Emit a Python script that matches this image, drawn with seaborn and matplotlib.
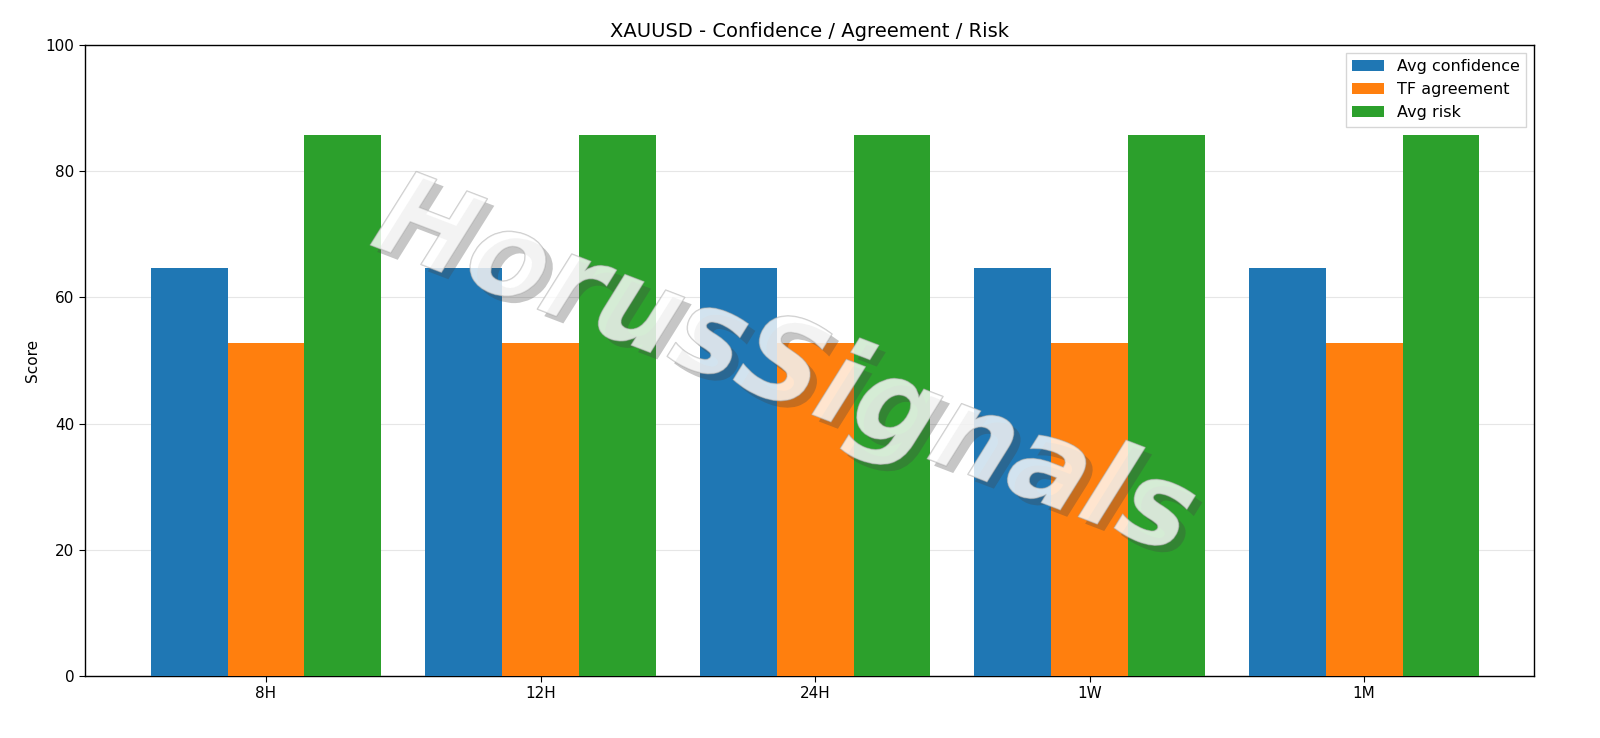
import matplotlib
matplotlib.use("Agg")
import matplotlib.pyplot as plt
import matplotlib.patheffects as pe
import seaborn as sns
import pandas as pd

horizons = ["8H", "12H", "24H", "1W", "1M"]
avg_confidence = [64.6, 64.6, 64.6, 64.6, 64.6]
tf_agreement = [52.7, 52.7, 52.7, 52.7, 52.7]
avg_risk = [85.8, 85.8, 85.8, 85.8, 85.8]
series_names = ["Avg confidence", "TF agreement", "Avg risk"]

rows = []
for name, vals in zip(series_names, [avg_confidence, tf_agreement, avg_risk]):
    for h, v in zip(horizons, vals):
        rows.append({"Horizon": h, "Series": name, "Score": v})
df = pd.DataFrame(rows)

sns.set_style("white")
plt.rcParams['font.family'] = ['DejaVu Sans']
plt.rcParams['text.color'] = 'black'
plt.rcParams['axes.labelcolor'] = 'black'
plt.rcParams['xtick.color'] = 'black'
plt.rcParams['ytick.color'] = 'black'
fig = plt.figure(figsize=(16, 7.38), dpi=100)
ax = fig.add_axes([0.053, 0.084, 0.906, 0.855])
sns.barplot(data=df, x="Horizon", y="Score", hue="Series",
            palette=["#1f77b4", "#ff7f0e", "#2ca02c"], width=0.84,
            saturation=1, ax=ax, zorder=3, linewidth=0, edgecolor="none", gap=0)
ax.set_ylim(0, 100)
ax.set_xlim(-0.66, 4.62)
ax.set_xlabel("")
ax.set_ylabel("Score", fontsize=11)
ax.set_title("XAUUSD - Confidence / Agreement / Risk", fontsize=14)
ax.yaxis.grid(True, color="#e6e6e6", linewidth=0.8, zorder=0)
ax.set_axisbelow(True)
for s in ax.spines.values():
    s.set_color("black")
    s.set_linewidth(1)
ax.tick_params(axis="both", which="both", length=4, labelsize=11, left=True, bottom=True)
ax.legend(loc="upper right", fontsize=11.5, frameon=True, fancybox=False)

fig.text(0.49, 0.50, "HorusSignals", fontsize=84, fontstyle="italic", fontweight="bold",
         color="white", alpha=0.3, rotation=-21, ha="center", va="center",
         path_effects=[pe.withSimplePatchShadow(offset=(5, -5), shadow_rgbFace="#444444", alpha=0.3),
                       pe.Stroke(linewidth=1.0, foreground="#aaaaaa", alpha=0.6), pe.Normal()])

fig.savefig("out.png", dpi=100)
